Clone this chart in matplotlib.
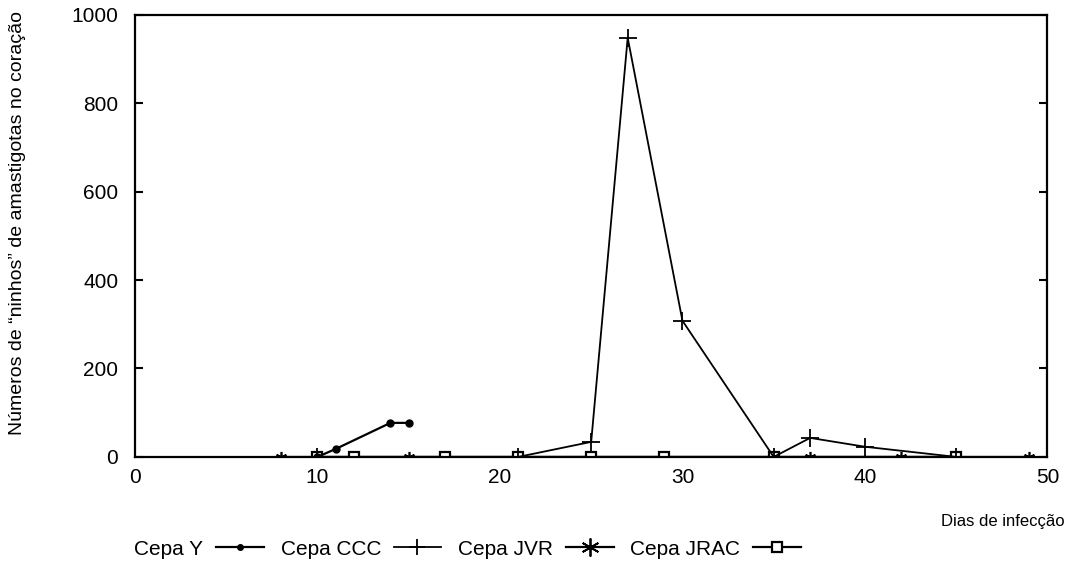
import matplotlib.pyplot as plt
from matplotlib.lines import Line2D

plt.rcParams['font.family'] = ['Liberation Sans', 'DejaVu Sans']

# Cepa Y (filled dots)
y_days = [10, 11, 14, 15]
y_vals = [0, 18, 77, 77]

# Cepa CCC (plus)
ccc_days = [10, 21, 25, 27, 30, 35, 37, 40, 45]
ccc_vals = [0, 0, 34, 948, 308, 0, 43, 23, 0]

# Cepa JVR (asterisk)
jvr_days = [8, 10, 15, 21, 25, 35, 37, 42, 45, 49]
jvr_vals = [0, 0, 0, 0, 0, 0, 0, 0, 0, 0]

# Cepa JRAC (open square)
jrac_days = [10, 12, 17, 21, 25, 29, 35, 45]
jrac_vals = [0, 0, 0, 0, 0, 0, 0, 0]

ASTERISK = (6, 2, 0)

fig = plt.figure(figsize=(10.71, 5.69), dpi=100)
ax = fig.add_axes([0.126, 0.197, 0.852, 0.777])

ax.plot(jvr_days, jvr_vals, color="black", lw=1.6, marker=ASTERISK, ms=8, mew=1.2)
ax.plot(jrac_days, jrac_vals, color="black", lw=1.6, marker="s", ms=7,
        mfc="white", mew=1.6)
ax.plot(ccc_days, ccc_vals, color="black", lw=1.3, marker="+", ms=13, mew=1.3)
ax.plot(y_days, y_vals, color="black", lw=1.6, marker="o", ms=5)

ax.set_xlim(0, 50)
ax.set_ylim(0, 1000)
ax.set_xticks([0, 10, 20, 30, 40, 50])
ax.set_yticks([0, 200, 400, 600, 800, 1000])
ax.tick_params(axis="y", direction="in", length=6, width=1.5, right=True,
               labelsize=15, pad=12)
ax.tick_params(axis="x", direction="in", length=0, labelsize=15, pad=8)
for sp in ax.spines.values():
    sp.set_linewidth(1.6)

ax.set_ylabel("Números de \u201cninhos\u201d de amastigotas no coração",
              fontsize=14)
ax.yaxis.set_label_coords(-0.119, 0.53)

fig.text(0.994, 0.083, "Dias de infecção", fontsize=12, ha="right", va="center")

handles = [
    Line2D([], [], color="black", lw=1.6, marker="o", ms=4),
    Line2D([], [], color="black", lw=1.3, marker="+", ms=12, mew=1.3),
    Line2D([], [], color="black", lw=1.6, marker=ASTERISK, ms=13, mew=1.3),
    Line2D([], [], color="black", lw=1.6, marker="s", ms=7, mfc="white", mew=1.6),
]
labels = ["Cepa Y", "Cepa CCC", "Cepa JVR", "Cepa JRAC"]
fig.legend(handles, labels, loc="center left", bbox_to_anchor=(0.108, 0.035),
           ncol=4, frameon=False, markerfirst=False, fontsize=15,
           handlelength=2.3, handletextpad=0.6, columnspacing=0.8)

fig.savefig("out.png", dpi=100)
